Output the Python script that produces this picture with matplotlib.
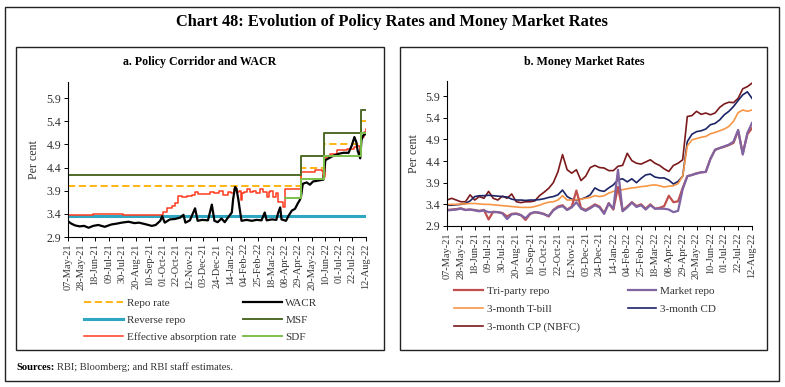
import matplotlib
matplotlib.use("Agg")
import matplotlib.pyplot as plt
import matplotlib.dates as mdates
from matplotlib.patches import Rectangle
import numpy as np
import pandas as pd

plt.rcParams["font.family"] = ["Liberation Serif", "DejaVu Serif"]

W, H = 785, 387
START, END = "2021-05-07", "2022-08-12"

# ---- panel a: policy corridor (step series) ----
step_dates = ["2021-05-07", "2022-05-04", "2022-06-08", "2022-08-05", "2022-08-12"]
repo_rate = [4.00, 4.40, 4.90, 5.40, 5.40]
msf_rate = [4.25, 4.65, 5.15, 5.65, 5.65]
reverse_repo_dates = ["2021-05-07", "2022-08-12"]
reverse_repo = [3.35, 3.35]
sdf_dates = ["2022-04-08", "2022-05-04", "2022-06-08", "2022-08-05", "2022-08-12"]
sdf_rate = [3.75, 4.15, 4.65, 5.15, 5.15]

# ---- panel a: WACR ----
wacr_dates = [
    "2021-05-07", "2021-05-12", "2021-05-18", "2021-05-25", "2021-06-01", "2021-06-08",
    "2021-06-15", "2021-06-23", "2021-07-03", "2021-07-13", "2021-07-22", "2021-07-29",
    "2021-08-09", "2021-08-18", "2021-08-25", "2021-09-03", "2021-09-14", "2021-09-20",
    "2021-09-27", "2021-09-30", "2021-10-04", "2021-10-12", "2021-10-20", "2021-10-28",
    "2021-11-02", "2021-11-05", "2021-11-12", "2021-11-20", "2021-11-24", "2021-12-01",
    "2021-12-10", "2021-12-16", "2021-12-20", "2021-12-25", "2021-12-31", "2022-01-05",
    "2022-01-10", "2022-01-16", "2022-01-18", "2022-01-21", "2022-01-23", "2022-01-26",
    "2022-01-29", "2022-01-31", "2022-02-08", "2022-02-16", "2022-02-23", "2022-03-03",
    "2022-03-08", "2022-03-11", "2022-03-19", "2022-03-26", "2022-03-29", "2022-04-01",
    "2022-04-03", "2022-04-10", "2022-04-14", "2022-04-19", "2022-04-24", "2022-04-28",
    "2022-05-01", "2022-05-03", "2022-05-06", "2022-05-12", "2022-05-17", "2022-05-22",
    "2022-05-30", "2022-06-07", "2022-06-10", "2022-06-15", "2022-06-23", "2022-07-01",
    "2022-07-08", "2022-07-16", "2022-07-21", "2022-07-25", "2022-07-28", "2022-07-30",
    "2022-08-03", "2022-08-05", "2022-08-08", "2022-08-12",
]
wacr = [
    3.24, 3.19, 3.15, 3.13, 3.14, 3.10,
    3.14, 3.16, 3.12, 3.17, 3.19, 3.21,
    3.23, 3.20, 3.21, 3.18, 3.14, 3.16,
    3.25, 3.35, 3.21, 3.28, 3.29, 3.32,
    3.38, 3.21, 3.26, 3.52, 3.25, 3.27,
    3.26, 3.60, 3.25, 3.22, 3.30, 3.22,
    3.32, 3.43, 3.72, 3.98, 3.95, 3.72,
    3.43, 3.25, 3.27, 3.25, 3.27, 3.26,
    3.43, 3.26, 3.28, 3.27, 3.43, 3.54,
    3.28, 3.25, 3.36, 3.47, 3.51, 3.62,
    3.69, 3.75, 4.05, 4.08, 4.03, 4.10,
    4.12, 4.14, 4.56, 4.60, 4.66, 4.70,
    4.72, 4.72, 4.88, 5.06, 4.95, 4.77,
    4.60, 5.00, 5.10, 5.13,
]

# ---- panel a: effective absorption rate ----
ear_dates = [
    "2021-05-07", "2021-06-15", "2021-08-01", "2021-09-27", "2021-10-01", "2021-10-08",
    "2021-10-15", "2021-10-20", "2021-10-24", "2021-10-30", "2021-11-08", "2021-11-15",
    "2021-11-20", "2021-11-25", "2021-12-05", "2021-12-13", "2021-12-20", "2021-12-27",
    "2022-01-03", "2022-01-10", "2022-01-15", "2022-01-19", "2022-01-24", "2022-01-27",
    "2022-01-30", "2022-02-01", "2022-02-04", "2022-02-08", "2022-02-13", "2022-02-18",
    "2022-02-23", "2022-03-01", "2022-03-06", "2022-03-11", "2022-03-14", "2022-03-16",
    "2022-03-21", "2022-03-26", "2022-03-29", "2022-04-05", "2022-04-08", "2022-05-03",
    "2022-05-04", "2022-05-25", "2022-06-05", "2022-06-07", "2022-06-09", "2022-06-17",
    "2022-06-28", "2022-07-14", "2022-07-24", "2022-07-29", "2022-08-03", "2022-08-05",
    "2022-08-09", "2022-08-12",
]
ear = [
    3.38, 3.39, 3.38, 3.38, 3.45, 3.52,
    3.58, 3.64, 3.78, 3.77, 3.79, 3.81,
    3.88, 3.83, 3.84, 3.87, 3.85, 3.90,
    3.80, 3.87, 3.85, 3.94, 3.88, 3.90,
    3.69, 3.85, 3.87, 3.94, 3.87, 3.90,
    3.85, 3.94, 3.88, 3.76, 3.87, 3.90,
    3.76, 3.85, 3.65, 3.54, 3.94, 3.95,
    4.30, 4.34, 4.33, 4.19, 4.63, 4.70,
    4.77, 4.81, 4.84, 4.86, 4.66, 5.06,
    5.17, 5.23,
]

# ---- panel b: money market rates, weekly readings from 07-May-21 ----
tri_party_repo = [
    3.27, 3.28, 3.29, 3.31, 3.27, 3.28, 3.27, 3.25, 3.27, 3.05,
    3.23, 3.22, 3.20, 3.12, 3.18, 3.19, 3.15, 3.04, 3.18, 3.22,
    3.20, 3.18, 3.12, 3.27, 3.35, 3.38, 3.28, 3.35, 3.72, 3.32,
    3.27, 3.33, 3.40, 3.35, 3.20, 3.43, 3.28, 3.80, 3.26, 3.35,
    3.45, 3.36, 3.40, 3.30, 3.40, 3.30, 3.32, 3.36, 3.60, 3.45,
    3.47, 3.78, 4.05, 4.08, 4.12, 4.14, 4.15, 4.45, 4.66, 4.70,
    4.73, 4.77, 4.82, 5.10, 4.58, 5.02, 5.16,
]
market_repo = [
    3.26, 3.27, 3.28, 3.30, 3.27, 3.28, 3.26, 3.24, 3.26, 3.22,
    3.22, 3.22, 3.19, 3.06, 3.17, 3.18, 3.15, 3.08, 3.19, 3.22,
    3.21, 3.17, 3.13, 3.26, 3.33, 3.36, 3.27, 3.33, 3.45, 3.30,
    3.25, 3.31, 3.38, 3.33, 3.18, 3.42, 3.30, 4.20, 3.24, 3.33,
    3.44, 3.34, 3.38, 3.28, 3.38, 3.30, 3.30, 3.30, 3.28, 3.22,
    3.25, 3.75, 4.05, 4.08, 4.11, 4.14, 4.15, 4.45, 4.66, 4.70,
    4.74, 4.78, 4.85, 5.12, 4.55, 5.05, 5.28,
]
tbill_3m = [
    3.40, 3.40, 3.40, 3.41, 3.41, 3.42, 3.42, 3.41, 3.40, 3.40,
    3.39, 3.38, 3.37, 3.36, 3.35, 3.34, 3.33, 3.33, 3.33, 3.35,
    3.38, 3.42, 3.45, 3.46, 3.50, 3.60, 3.50, 3.50, 3.51, 3.52,
    3.54, 3.56, 3.60, 3.58, 3.60, 3.66, 3.70, 3.73, 3.74, 3.76,
    3.78, 3.79, 3.81, 3.82, 3.84, 3.85, 3.83, 3.80, 3.82, 3.83,
    3.88, 4.05, 4.75, 4.89, 4.92, 4.95, 4.97, 5.03, 5.06, 5.10,
    5.14, 5.20, 5.32, 5.52, 5.58, 5.55, 5.58,
]
cd_3m = [
    3.38, 3.38, 3.39, 3.40, 3.42, 3.48, 3.58, 3.60, 3.60, 3.61,
    3.60, 3.59, 3.58, 3.57, 3.52, 3.50, 3.50, 3.49, 3.50, 3.50,
    3.51, 3.53, 3.56, 3.58, 3.62, 3.73, 3.58, 3.52, 3.50, 3.52,
    3.56, 3.62, 3.78, 3.72, 3.70, 3.78, 3.85, 3.97, 3.99, 3.92,
    3.99, 3.90, 4.00, 4.08, 4.10, 4.03, 4.01, 4.01, 3.96, 3.87,
    3.93, 4.05, 4.85, 5.02, 5.08, 5.10, 5.14, 5.24, 5.27, 5.35,
    5.47, 5.55, 5.66, 5.80, 5.93, 6.00, 5.85,
]
cp_nbfc_3m = [
    3.50, 3.54, 3.50, 3.46, 3.46, 3.62, 3.50, 3.58, 3.54, 3.70,
    3.54, 3.50, 3.59, 3.54, 3.64, 3.46, 3.44, 3.46, 3.46, 3.48,
    3.60, 3.68, 3.77, 3.90, 4.15, 4.55, 4.20, 4.12, 4.20, 3.95,
    4.05, 4.25, 4.30, 4.25, 4.24, 4.18, 4.18, 4.28, 4.30, 4.58,
    4.41, 4.35, 4.33, 4.38, 4.43, 4.35, 4.30, 4.22, 4.16, 4.30,
    4.35, 4.43, 5.43, 5.45, 5.55, 5.48, 5.51, 5.47, 5.51, 5.64,
    5.72, 5.76, 5.75, 5.85, 6.07, 6.12, 6.20,
]

Y_TICKS = [2.9, 3.4, 3.9, 4.4, 4.9, 5.4, 5.9]


def fx(x):
    return x / W


def fy(y):
    return 1 - y / H


def add_box(fig, x0, y0, x1, y1, lw=1.0):
    fig.add_artist(Rectangle((fx(x0), fy(y1)), fx(x1) - fx(x0), fy(y0) - fy(y1),
                             transform=fig.transFigure, fill=False,
                             edgecolor="#222222", linewidth=lw))


def style_axis(ax):
    ax.spines["top"].set_visible(False)
    ax.spines["right"].set_visible(False)
    ax.spines["left"].set_linewidth(0.8)
    ax.spines["bottom"].set_linewidth(0.8)
    ax.set_ylim(2.9, 6.25)
    ax.set_yticks(Y_TICKS)
    ax.set_yticklabels([f"{v:.1f}" for v in Y_TICKS])
    ax.set_xlim(pd.Timestamp(START), pd.Timestamp(END))
    ticks = pd.date_range(START, END, freq="21D")
    ax.set_xticks(ticks)
    ax.xaxis.set_major_formatter(mdates.DateFormatter("%d-%b-%y"))
    ax.tick_params(axis="x", labelrotation=90, labelsize=7.5, length=3, width=0.7,
                   pad=1.5, labelcolor="#333333")
    ax.tick_params(axis="y", labelsize=8.6, length=3, width=0.7, pad=2, labelcolor="#333333")
    ax.set_ylabel("Per cent", fontsize=8.6, color="#333333")


fig = plt.figure(figsize=(W / 100, H / 100), dpi=100)

add_box(fig, 5, 7, 779, 381, lw=1.0)
add_box(fig, 16, 47, 384, 350, lw=1.0)
add_box(fig, 400, 47, 767, 350, lw=1.0)

fig.text(fx(392), fy(22), "Chart 48: Evolution of Policy Rates and Money Market Rates",
         ha="center", va="center", fontsize=11.8, fontweight="bold")
fig.text(fx(200), fy(62), "a. Policy Corridor and WACR", ha="center", va="center",
         fontsize=8.6, fontweight="bold")
fig.text(fx(584), fy(62), "b. Money Market Rates", ha="center", va="center",
         fontsize=8.6, fontweight="bold")

# sources line: bold lead-in followed by plain text
src_bold = fig.text(fx(16), fy(367), "Sources:", ha="left", va="center",
                    fontsize=7.6, fontweight="bold")
renderer = fig.canvas.get_renderer()
bb = src_bold.get_window_extent(renderer=renderer)
fig.text(bb.x1 / W + 3 / W, fy(367), "RBI; Bloomberg; and RBI staff estimates.", ha="left",
         va="center", fontsize=7.6, color="#333333")

# ---- panel a ----
ax1 = fig.add_axes([fx(68), fy(237), (366 - 68) / W, (237 - 82) / H])
sd = pd.to_datetime(step_dates)
h_repo, = ax1.plot(sd, repo_rate, drawstyle="steps-post", color="#FFB000",
                   linestyle=(0, (4, 2)), linewidth=1.3, label="Repo rate")
h_rev, = ax1.plot(pd.to_datetime(reverse_repo_dates), reverse_repo, color="#2FA7C3",
                  linewidth=2.2, label="Reverse repo")
h_ear, = ax1.plot(pd.to_datetime(ear_dates), ear, drawstyle="steps-post",
                  color="#FF3B1F", linewidth=1.1, label="Effective absorption rate")
h_wacr, = ax1.plot(pd.to_datetime(wacr_dates), wacr, color="black", linewidth=1.6,
                   label="WACR")
h_msf, = ax1.plot(sd, msf_rate, drawstyle="steps-post", color="#4F6A28",
                  linewidth=1.4, label="MSF")
h_sdf, = ax1.plot(pd.to_datetime(sdf_dates), sdf_rate, drawstyle="steps-post",
                  color="#7CC04B", linewidth=1.4, label="SDF")
style_axis(ax1)
ax1.yaxis.set_label_coords(-0.095, 0.5)
ax1.legend(handles=[h_repo, h_rev, h_ear, h_wacr, h_msf, h_sdf], ncol=2,
           loc="upper left", bbox_to_anchor=(fx(84), fy(298)),
           bbox_transform=fig.transFigure, frameon=False, fontsize=8.0,
           handlelength=3.5, handletextpad=0.35, columnspacing=0.6,
           labelspacing=0.65, borderpad=0, borderaxespad=0, labelcolor="#333333")

# ---- panel b ----
ax2 = fig.add_axes([fx(447), fy(226), (752 - 447) / W, (226 - 81) / H])
weeks = pd.date_range(START, END, freq="7D")
h_cp, = ax2.plot(weeks, cp_nbfc_3m, color="#7B1A1C", linewidth=1.2, label="3-month CP (NBFC)")
h_cd, = ax2.plot(weeks, cd_3m, color="#1C2466", linewidth=1.2, label="3-month CD")
h_tb, = ax2.plot(weeks, tbill_3m, color="#F79646", linewidth=1.2, label="3-month T-bill")
h_tri, = ax2.plot(weeks, tri_party_repo, color="#C0504D", linewidth=1.6, label="Tri-party repo")
h_mkt, = ax2.plot(weeks, market_repo, color="#8064A2", linewidth=1.6, label="Market repo")
style_axis(ax2)
ax2.yaxis.set_label_coords(-0.09, 0.5)
ax2.legend(handles=[h_tri, h_tb, h_cp, h_mkt, h_cd], ncol=2,
           loc="upper left", bbox_to_anchor=(fx(454), fy(286)),
           bbox_transform=fig.transFigure, frameon=False, fontsize=8.0,
           handlelength=2.6, handletextpad=0.35, columnspacing=4.3,
           labelspacing=0.75, borderpad=0, borderaxespad=0, labelcolor="#333333")

fig.savefig("out.png", dpi=100)
